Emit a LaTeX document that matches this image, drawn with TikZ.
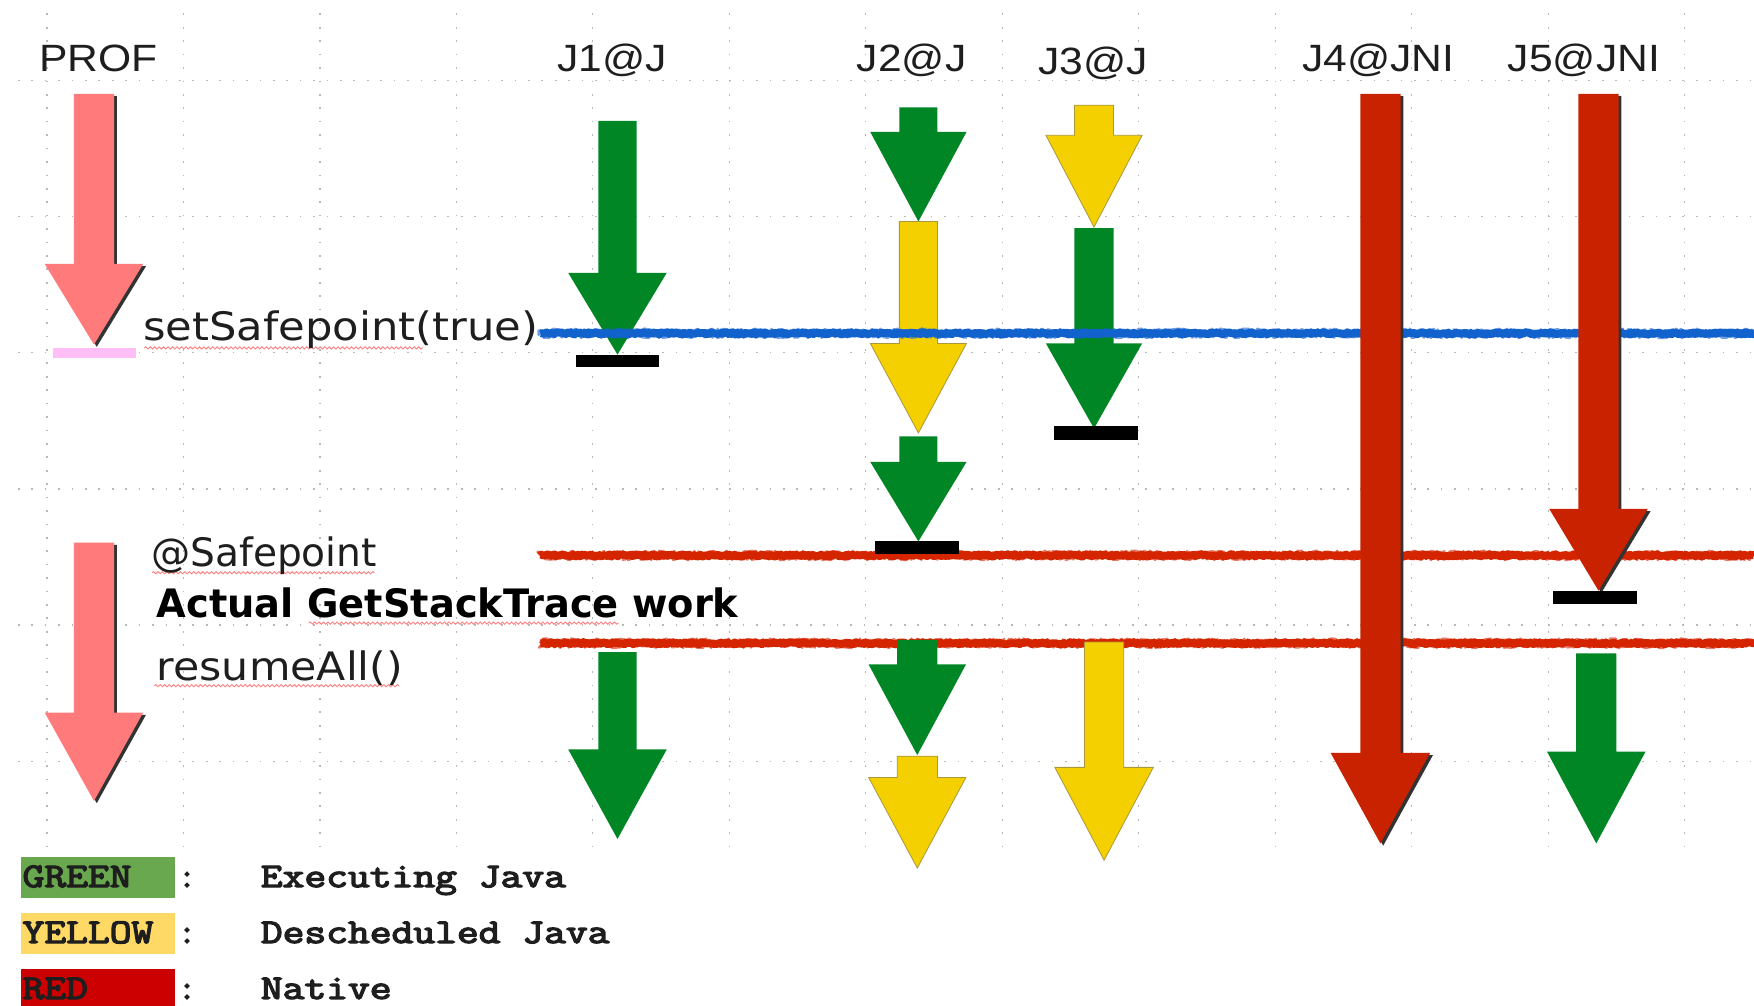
\documentclass[tikz,border=0pt]{standalone}
\usepackage{fontspec}
\usepackage{graphicx}
\usetikzlibrary{decorations.pathmorphing}
\newfontfamily\dvsans{DejaVu Sans}
\newfontfamily\lisans{Liberation Sans}
\newfontfamily\courbold{Latin Modern Mono}[FakeBold=3.5]
\definecolor{jgreen}{RGB}{0,134,36}
\definecolor{jyellow}{RGB}{245,208,0}
\definecolor{jyedge}{RGB}{170,150,60}
\definecolor{jred}{RGB}{201,34,0}
\definecolor{jprof}{RGB}{255,122,122}
\definecolor{lblue}{RGB}{18,98,205}
\definecolor{lred}{RGB}{212,36,0}
\definecolor{pinkbar}{RGB}{255,190,245}
\definecolor{lggreen}{RGB}{106,168,79}
\definecolor{lgyellow}{RGB}{255,217,102}
\definecolor{lgred}{RGB}{204,0,0}
\definecolor{txt}{RGB}{30,30,30}
\newcommand{\xs}[2]{\scalebox{#1}[1]{#2}}
% [style]{cx}{top}{headtop}{tip}{shaft half width}{head half width}
\newcommand{\blockarrow}[7][]{%
  \fill[#1] ({#2-#6},{#3}) -- ({#2+#6},{#3}) -- ({#2+#6},{#4}) -- ({#2+#7},{#4})
    -- ({#2},{#5}) -- ({#2-#7},{#4}) -- ({#2-#6},{#4}) -- cycle;}
\newcommand{\shadowarrow}[7][]{%
  \fill[black!80, shift={(2.5,2)}] ({#2-#6},{#3}) -- ({#2+#6},{#3}) -- ({#2+#6},{#4}) -- ({#2+#7},{#4})
    -- ({#2},{#5}) -- ({#2-#7},{#4}) -- ({#2-#6},{#4}) -- cycle;
  \fill[#1] ({#2-#6},{#3}) -- ({#2+#6},{#3}) -- ({#2+#6},{#4}) -- ({#2+#7},{#4})
    -- ({#2},{#5}) -- ({#2-#7},{#4}) -- ({#2-#6},{#4}) -- cycle;}
\tikzset{
  gridline/.style={draw=black!28, line width=1.1pt, dash pattern=on 1.5pt off 10.5pt},
  greenarr/.style={fill=jgreen},
  yellowarr/.style={fill=jyellow, draw=jyedge, line width=0.7pt},
  redarr/.style={fill=jred},
  profarr/.style={fill=jprof},
  stopbar/.style={fill=black},
  noisyfuzz/.style={line width=2.2pt, opacity=0.6, line join=round, decorate,
    decoration={random steps, segment length=0.7pt, amplitude=4.2pt}},
  noisycore/.style={line width=7pt, line join=round, decorate,
    decoration={random steps, segment length=1.2pt, amplitude=1pt}},
  spell/.style={draw=red!50, line width=0.8pt, decorate,
    decoration={snake, segment length=4pt, amplitude=1pt}},
  lbl/.style={font=\lisans\fontsize{34}{40}\selectfont, text=txt, inner sep=0pt, anchor=base},
  dvtext/.style={font=\dvsans\fontsize{35}{42}\selectfont, text=txt, inner sep=0pt, anchor=base west},
  dvbold/.style={font=\dvsans\bfseries\fontsize{35}{42}\selectfont, text=black, inner sep=0pt, anchor=base west},
  mono/.style={font=\courbold\fontsize{31}{36}\selectfont, text=txt, inner sep=0pt, anchor=base west},
  legbox/.style={minimum width=137pt, inner sep=0pt, anchor=north west, outer sep=0pt}
}
\begin{document}
\begin{tikzpicture}[x=1pt,y=-1pt]
\useasboundingbox (0,0) rectangle (1568,899);
\fill[white] (0,0) rectangle (1568,899);
\pgfmathsetseed{7}
% background grid
\foreach \k in {0,...,12} \draw[gridline] ({42+122*\k},12) -- ({42+122*\k},757);
\foreach \k in {0,...,5} \draw[gridline] (16,{72+121.7*\k}) -- (1568,{72+121.7*\k});

% PROF arrows
\shadowarrow[profarr]{84}{84}{236}{308}{18}{44}
\fill[pinkbar] (47,311) rectangle (122,320);
\shadowarrow[profarr]{84}{485}{637}{716}{18}{44}

% upper Java arrows
\blockarrow[greenarr]{552}{108}{244}{317}{17}{44}
\blockarrow[greenarr]{821}{96}{118}{198}{17}{43}
\blockarrow[yellowarr]{821}{198}{307}{387}{17}{43}
\blockarrow[greenarr]{821}{390}{413}{484}{17}{43}
\blockarrow[yellowarr]{978}{94}{121}{203}{17.5}{43}
\blockarrow[greenarr]{978}{204}{307}{383}{17.5}{43}

% safepoint lines
\coordinate (bl) at (483,298);
\coordinate (br) at (1568,298);
\draw[noisycore, lblue] (bl) -- (br);
\draw[noisyfuzz, lblue] (bl) -- (br);
\coordinate (r1l) at (483,496.5);
\coordinate (r1r) at (1568,496.5);
\coordinate (r2l) at (483,575);
\coordinate (r2r) at (1568,575);
\draw[noisycore, lred] (r1l) -- (r1r);
\draw[noisyfuzz, lred] (r1l) -- (r1r);
\draw[noisycore, lred] (r2l) -- (r2r);
\draw[noisyfuzz, lred] (r2l) -- (r2r);

% lower Java arrows
\blockarrow[greenarr]{552}{583}{670}{750}{17}{44}
\blockarrow[greenarr]{820}{572}{594}{675}{18}{43.5}
\blockarrow[yellowarr]{820}{676}{695}{776}{18}{43.5}
\blockarrow[yellowarr]{987}{574}{686}{769}{17.5}{44}

% native arrows
\shadowarrow[redarr]{1234}{84}{673}{754}{18}{44.5}
\shadowarrow[redarr]{1429}{84}{455}{528}{18}{44}
\blockarrow[greenarr]{1427}{584}{672}{754}{18}{44}

% stop bars
\fill[stopbar] (515,317) rectangle (589,328);
\fill[stopbar] (782,484) rectangle (857,495);
\fill[stopbar] (942,381) rectangle (1017,393);
\fill[stopbar] (1388,528) rectangle (1463,540);

% column labels
\node[lbl] (prof) at (88,64) {\xs{1.12}{PROF}};
\node[lbl] (j1) at (547,64) {\xs{1.12}{J1@J}};
\node[lbl] (j2) at (815,64) {\xs{1.12}{J2@J}};
\node[lbl] (j3) at (977,67) {\xs{1.12}{J3@J}};
\node[lbl] (j4) at (1232,64) {\xs{1.12}{J4@JNI}};
\node[lbl] (j5) at (1416,64) {\xs{1.12}{J5@JNI}};

% step texts
\draw[spell] (129,311) -- (378,311);
\node[dvtext] (setsp) at (128,304) {\xs{1.105}{setSafepoint(true)}};
\draw[spell] (136,512) -- (335,512);
\node[dvtext] (atsp) at (135,506) {@Safepoint};
\draw[spell] (276,557) -- (553,557);
\node[dvbold] (work) at (140,552) {\xs{0.98}{Actual GetStackTrace work}};
\draw[spell] (138,613) -- (357,613);
\node[dvtext] (resume) at (140,608) {\xs{1.09}{resumeAll()}};

% legend
\node[legbox, fill=lggreen, minimum height=37pt] (gbox) at (19,766) {};
\node[legbox, fill=lgyellow, minimum height=37pt] (ybox) at (19,816) {};
\node[legbox, fill=lgred, minimum height=34pt] (rbox) at (19,866) {};
\node[mono] (gname) at (20,793) {\xs{1.22}{GREEN}};
\node[mono] (yname) at (20,843) {\xs{1.22}{YELLOW}};
\node[mono] (rname) at (20,893) {\xs{1.22}{RED}};
\node[mono] (gcol) at (159,793) {:};
\node[mono] (ycol) at (159,843) {:};
\node[mono] (rcol) at (159,893) {:};
\node[mono] (gdesc) at (233,793) {\xs{1.22}{Executing Java}};
\node[mono] (ydesc) at (233,843) {\xs{1.22}{Descheduled Java}};
\node[mono] (rdesc) at (233,893) {\xs{1.22}{Native}};
\end{tikzpicture}
\end{document}
